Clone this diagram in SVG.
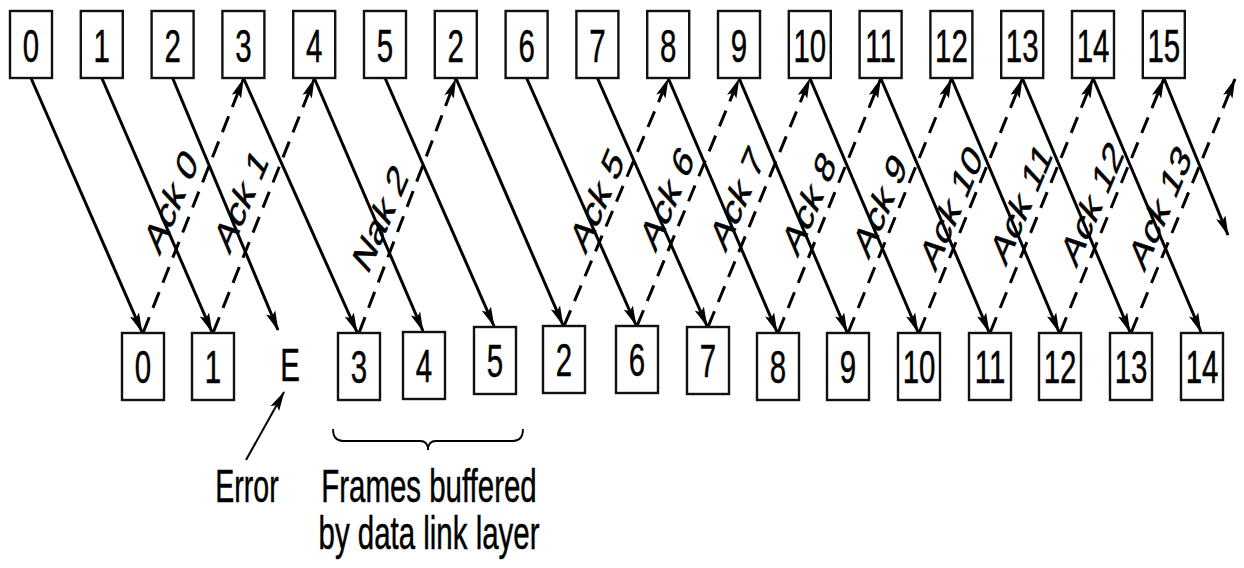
<svg xmlns="http://www.w3.org/2000/svg" width="1244" height="568" viewBox="0 0 1244 568">
<defs>
<style>
.box{fill:#fff;stroke:#111;stroke-width:2.4}
.t{font-family:"Liberation Sans",Arial,Helvetica,sans-serif;font-size:46px;text-anchor:middle;fill:#000;stroke:#000;stroke-width:0.5}
.l{font-family:"Liberation Sans",Arial,Helvetica,sans-serif;font-size:45px;text-anchor:middle;fill:#000;stroke:#000;stroke-width:0.6}
.s{stroke:#000;stroke-width:3;fill:none;marker-end:url(#ah)}
.d{stroke:#000;stroke-width:3;fill:none;stroke-dasharray:17 10;marker-end:url(#ah)}
.br{stroke:#000;stroke-width:1.8;fill:none}
</style>
<marker id="ah" markerUnits="userSpaceOnUse" viewBox="0 0 20 11" refX="19" refY="5.5" markerWidth="20" markerHeight="11" orient="auto">
<path d="M0,0.5 L20,5.5 L0,10.5 L4,5.5 z" fill="#000"/>
</marker>
</defs>

<g id="connectors">
<line class="s" x1="31" y1="78" x2="142" y2="332"/>
<line class="s" x1="101.8" y1="78" x2="212" y2="332"/>
<line class="s" x1="172.6" y1="78" x2="278" y2="330"/>
<line class="s" x1="243.4" y1="78" x2="357" y2="332"/>
<line class="s" x1="314.2" y1="78" x2="423" y2="331"/>
<line class="s" x1="385" y1="78" x2="494" y2="326"/>
<line class="s" x1="455.8" y1="78" x2="563" y2="325"/>
<line class="s" x1="526.6" y1="78" x2="636" y2="325"/>
<line class="s" x1="597.4" y1="78" x2="707" y2="326"/>
<line class="s" x1="668.2" y1="78" x2="777" y2="332"/>
<line class="s" x1="739" y1="78" x2="847" y2="332"/>
<line class="s" x1="809.8" y1="78" x2="918" y2="332"/>
<line class="s" x1="880.6" y1="78" x2="989" y2="332"/>
<line class="s" x1="951.4" y1="78" x2="1059" y2="332"/>
<line class="s" x1="1022.2" y1="78" x2="1130" y2="332"/>
<line class="s" x1="1093" y1="78" x2="1201" y2="332"/>
<line class="s" x1="1163.8" y1="78" x2="1228" y2="235"/>
<line class="d" x1="143" y1="333" x2="243.4" y2="79"/>
<line class="d" x1="213" y1="333" x2="314.2" y2="79"/>
<line class="d" x1="359" y1="333" x2="455.8" y2="79"/>
<line class="d" x1="564" y1="326" x2="668.2" y2="79"/>
<line class="d" x1="637" y1="326" x2="739" y2="79"/>
<line class="d" x1="708" y1="327" x2="809.8" y2="79"/>
<line class="d" x1="778" y1="333" x2="880.6" y2="79"/>
<line class="d" x1="848" y1="333" x2="951.4" y2="79"/>
<line class="d" x1="919" y1="333" x2="1022.2" y2="79"/>
<line class="d" x1="990" y1="333" x2="1093" y2="79"/>
<line class="d" x1="1060" y1="333" x2="1163.8" y2="79"/>
<line class="d" x1="1131" y1="333" x2="1235" y2="79"/>
<line x1="246" y1="460" x2="284" y2="392" stroke="#000" stroke-width="2" marker-end="url(#ah)"/>
<path class="br" d="M333,429 Q333,441 343,441 L420,441 Q428,441 428,450 Q428,441 436,441 L513,441 Q523,441 523,429"/>
</g>

<g id="ack-labels">
<text class="l" transform="translate(171,201) scale(0.63,1) rotate(-56)" y="16">Ack 0</text>
<text class="l" transform="translate(241,200) scale(0.63,1) rotate(-56)" y="16">Ack 1</text>
<text class="l" transform="translate(380,218) scale(0.63,1) rotate(-56)" y="16">Nak 2</text>
<text class="l" transform="translate(597,200) scale(0.63,1) rotate(-56)" y="16">Ack 5</text>
<text class="l" transform="translate(667,198) scale(0.63,1) rotate(-56)" y="16">Ack 6</text>
<text class="l" transform="translate(737,198) scale(0.63,1) rotate(-56)" y="16">Ack 7</text>
<text class="l" transform="translate(809,203) scale(0.63,1) rotate(-56)" y="16">Ack 8</text>
<text class="l" transform="translate(880,205) scale(0.63,1) rotate(-56)" y="16">Ack 9</text>
<text class="l" transform="translate(951,207) scale(0.63,1) rotate(-56)" y="16">Ack 10</text>
<text class="l" transform="translate(1021,203) scale(0.63,1) rotate(-56)" y="16">Ack 11</text>
<text class="l" transform="translate(1092,203) scale(0.63,1) rotate(-56)" y="16">Ack 12</text>
<text class="l" transform="translate(1160,207) scale(0.63,1) rotate(-56)" y="16">Ack 13</text>
</g>

<g id="sender">
<g id="s0"><rect class="box" x="10" y="11" width="42" height="67"/><text class="t" transform="translate(31,61.5) scale(0.64,1)">0</text></g>
<g id="s1"><rect class="box" x="80.8" y="11" width="42" height="67"/><text class="t" transform="translate(101.8,61.5) scale(0.64,1)">1</text></g>
<g id="s2"><rect class="box" x="151.6" y="11" width="42" height="67"/><text class="t" transform="translate(172.6,61.5) scale(0.64,1)">2</text></g>
<g id="s3"><rect class="box" x="222.4" y="11" width="42" height="67"/><text class="t" transform="translate(243.4,61.5) scale(0.64,1)">3</text></g>
<g id="s4"><rect class="box" x="293.2" y="11" width="42" height="67"/><text class="t" transform="translate(314.2,61.5) scale(0.64,1)">4</text></g>
<g id="s5"><rect class="box" x="364" y="11" width="42" height="67"/><text class="t" transform="translate(385,61.5) scale(0.64,1)">5</text></g>
<g id="s2r"><rect class="box" x="434.8" y="11" width="42" height="67"/><text class="t" transform="translate(455.8,61.5) scale(0.64,1)">2</text></g>
<g id="s6"><rect class="box" x="505.6" y="11" width="42" height="67"/><text class="t" transform="translate(526.6,61.5) scale(0.64,1)">6</text></g>
<g id="s7"><rect class="box" x="576.4" y="11" width="42" height="67"/><text class="t" transform="translate(597.4,61.5) scale(0.64,1)">7</text></g>
<g id="s8"><rect class="box" x="647.2" y="11" width="42" height="67"/><text class="t" transform="translate(668.2,61.5) scale(0.64,1)">8</text></g>
<g id="s9"><rect class="box" x="718" y="11" width="42" height="67"/><text class="t" transform="translate(739,61.5) scale(0.64,1)">9</text></g>
<g id="s10"><rect class="box" x="788.8" y="11" width="42" height="67"/><text class="t" transform="translate(809.8,61.5) scale(0.64,1)">10</text></g>
<g id="s11"><rect class="box" x="859.6" y="11" width="42" height="67"/><text class="t" transform="translate(880.6,61.5) scale(0.64,1)">11</text></g>
<g id="s12"><rect class="box" x="930.4" y="11" width="42" height="67"/><text class="t" transform="translate(951.4,61.5) scale(0.64,1)">12</text></g>
<g id="s13"><rect class="box" x="1001.2" y="11" width="42" height="67"/><text class="t" transform="translate(1022.2,61.5) scale(0.64,1)">13</text></g>
<g id="s14"><rect class="box" x="1072" y="11" width="42" height="67"/><text class="t" transform="translate(1093,61.5) scale(0.64,1)">14</text></g>
<g id="s15"><rect class="box" x="1142.8" y="11" width="42" height="67"/><text class="t" transform="translate(1163.8,61.5) scale(0.64,1)">15</text></g>
</g>

<g id="receiver">
<g id="r0"><rect class="box" x="122" y="333" width="42" height="67"/><text class="t" transform="translate(143,382.5) scale(0.64,1)">0</text></g>
<g id="r1"><rect class="box" x="192" y="333" width="42" height="67"/><text class="t" transform="translate(213,382.5) scale(0.64,1)">1</text></g>
<g id="rE"><text class="t" transform="translate(290,380.5) scale(0.64,1)">E</text></g>
<g id="r3"><rect class="box" x="338" y="333" width="42" height="67"/><text class="t" transform="translate(359,382.5) scale(0.64,1)">3</text></g>
<g id="r4"><rect class="box" x="403" y="332" width="42" height="67"/><text class="t" transform="translate(424,381.5) scale(0.64,1)">4</text></g>
<g id="r5"><rect class="box" x="474" y="327" width="42" height="67"/><text class="t" transform="translate(495,376.5) scale(0.64,1)">5</text></g>
<g id="r2"><rect class="box" x="543" y="326" width="42" height="67"/><text class="t" transform="translate(564,375.5) scale(0.64,1)">2</text></g>
<g id="r6"><rect class="box" x="616" y="326" width="42" height="67"/><text class="t" transform="translate(637,375.5) scale(0.64,1)">6</text></g>
<g id="r7"><rect class="box" x="687" y="327" width="42" height="67"/><text class="t" transform="translate(708,376.5) scale(0.64,1)">7</text></g>
<g id="r8"><rect class="box" x="757" y="333" width="42" height="67"/><text class="t" transform="translate(778,382.5) scale(0.64,1)">8</text></g>
<g id="r9"><rect class="box" x="827" y="333" width="42" height="67"/><text class="t" transform="translate(848,382.5) scale(0.64,1)">9</text></g>
<g id="r10"><rect class="box" x="898" y="333" width="42" height="67"/><text class="t" transform="translate(919,382.5) scale(0.64,1)">10</text></g>
<g id="r11"><rect class="box" x="969" y="333" width="42" height="67"/><text class="t" transform="translate(990,382.5) scale(0.64,1)">11</text></g>
<g id="r12"><rect class="box" x="1039" y="333" width="42" height="67"/><text class="t" transform="translate(1060,382.5) scale(0.64,1)">12</text></g>
<g id="r13"><rect class="box" x="1110" y="333" width="42" height="67"/><text class="t" transform="translate(1131,382.5) scale(0.64,1)">13</text></g>
<g id="r14"><rect class="box" x="1181" y="333" width="42" height="67"/><text class="t" transform="translate(1202,382.5) scale(0.64,1)">14</text></g>
</g>

<g id="annotations">
<text class="t" transform="translate(247,502) scale(0.62,1)">Error</text>
<text class="t" transform="translate(429,502) scale(0.64,1)">Frames buffered</text>
<text class="t" transform="translate(429,549) scale(0.64,1)">by data link layer</text>
</g>
</svg>
